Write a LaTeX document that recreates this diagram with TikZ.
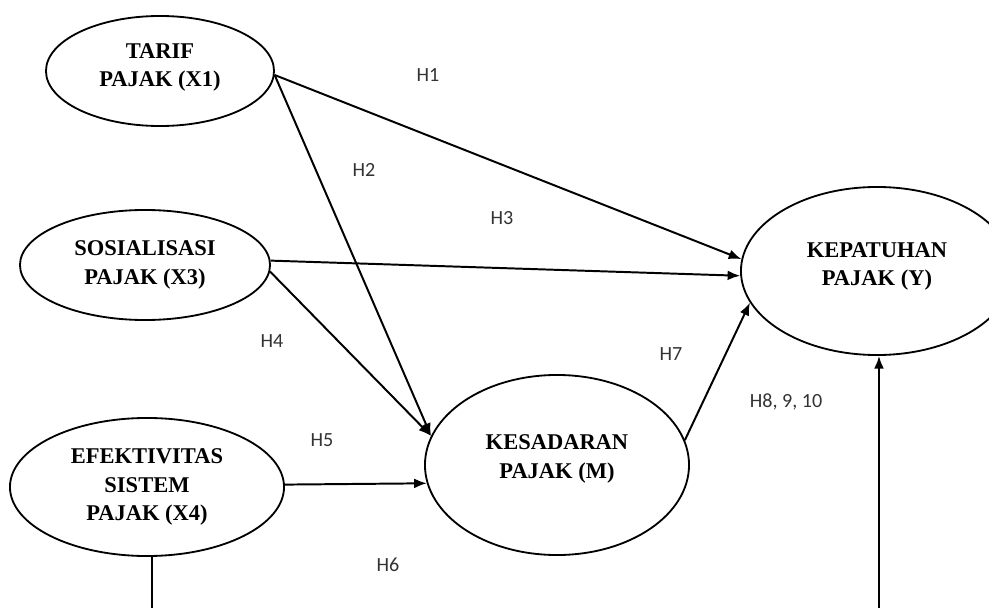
\documentclass[tikz,border=0pt]{standalone}
\usepackage{fontspec}
\setmainfont{Liberation Serif}
\newfontfamily\hypfont{Carlito}
\usetikzlibrary{shapes.geometric,arrows.meta}

\tikzset{
  var/.style={ellipse,draw,line width=1.3pt,inner sep=0pt,align=center,
    font=\fontsize{16}{20}\selectfont\bfseries},
  hyp/.style={font=\hypfont\fontsize{14.3}{16}\selectfont,text=black!80},
}

\begin{document}
\begin{tikzpicture}[>={Latex[length=9pt,width=7pt]},line width=1.4pt,x=0.025cm,y=0.025cm]
\useasboundingbox (0,0) rectangle (989,608);
% variables
\node[var,minimum width=5.7cm,minimum height=2.75cm,text depth=8pt] (tarif) at (160,537) {TARIF\\PAJAK (X1)};
\node[var,minimum width=6.25cm,minimum height=2.75cm] (sos) at (145,343) {SOSIALISASI\\PAJAK (X3)};
\node[var,minimum width=6.85cm,minimum height=3.45cm] (efek) at (147,121) {EFEKTIVITAS\\SISTEM\\PAJAK (X4)};
\node[var,minimum width=6.6cm,minimum height=4.5cm,text depth=12pt] (kesad) at (557,143) {KESADARAN\\PAJAK (M)};
\node[var,minimum width=6.8cm,minimum height=4.2cm,text depth=10pt] (kepat) at (877,337) {KEPATUHAN\\PAJAK (Y)};
\coordinate (efekend) at (152,0);
\coordinate (kepend) at (879,0);
% paths
\draw[->] (tarif.-2) -- (kepat.175);
\draw[->] (tarif.-2) -- (kesad.167);
\draw[->] (sos.2) -- (kepat.-178);
\draw[->] (sos.-3) -- (kesad.167);
\draw[->] (efek.1) -- (kesad.-172);
\draw[->] (kesad.11) -- (kepat.-166);
\draw (efek.south -| efekend) -- (efekend);
\draw[->] (kepend) -- (kepend |- kepat.south);
% hypotheses
\node[hyp] (h1) at (428,533) {H1};
\node[hyp] (h2) at (364,438) {H2};
\node[hyp] (h3) at (502,390) {H3};
\node[hyp] (h4) at (272,267) {H4};
\node[hyp] (h5) at (322,168) {H5};
\node[hyp] (h6) at (388,43) {H6};
\node[hyp] (h7) at (671,254) {H7};
\node[hyp] (h8) at (786,206) {H8, 9, 10};
\end{tikzpicture}
\end{document}
